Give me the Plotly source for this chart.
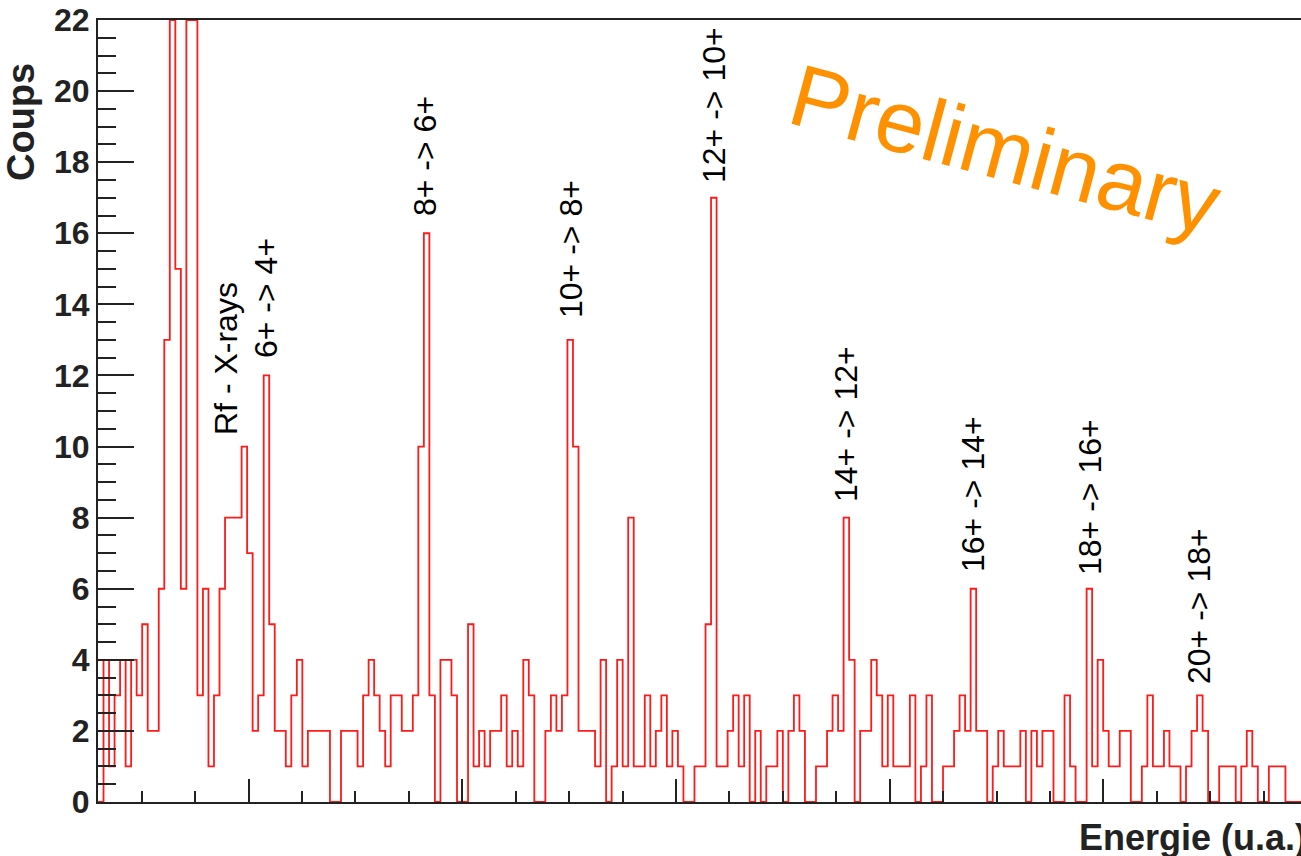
import numpy as np
import plotly.graph_objects as go

# ---------------- data (counts per bin) ----------------
counts = [
    0, 4, 1, 3, 4, 1, 4, 3, 5, 2,          # 0-9
    2, 6, 13, 22, 15, 6, 22, 22, 3, 6,     # 10-19
    1, 3, 6, 8, 8, 8, 10, 7, 2, 3,         # 20-29
    12, 5, 2, 2, 1, 3, 4, 1, 2, 2,         # 30-39
    2, 2, 0, 0, 2, 2, 2, 1, 3, 4,          # 40-49
    3, 2, 1, 3, 3, 2, 2, 3, 10, 16,        # 50-59
    3, 0, 4, 4, 3, 0, 0, 5, 1, 2,          # 60-69
    1, 2, 2, 3, 1, 2, 1, 4, 3, 0,          # 70-79
    0, 2, 3, 2, 3, 13, 10, 2, 2, 2,        # 80-89
    1, 4, 0, 1, 4, 1, 8, 1, 1, 3,          # 90-99
    1, 2, 3, 1, 2, 1, 0, 0, 1, 1,          # 100-109
    5, 17, 1, 1, 2, 3, 1, 3, 0, 2,         # 110-119
    0, 1, 1, 2, 0, 2, 3, 2, 0, 0,          # 120-129
    1, 1, 2, 3, 2, 8, 4, 0, 2, 2,          # 130-139
    4, 3, 1, 3, 1, 1, 1, 3, 0, 1,          # 140-149
    3, 0, 0, 1, 1, 2, 3, 2, 6, 2,          # 150-159
    2, 0, 1, 2, 1, 1, 1, 2, 0, 2,          # 160-169
    1, 2, 2, 0, 0, 3, 1, 0, 0, 6,          # 170-179
    1, 4, 2, 1, 1, 2, 2, 0, 0, 1,          # 180-189
    3, 1, 1, 2, 1, 1, 0, 1, 2, 3,          # 190-199
    2, 0, 0, 1, 1, 1, 0, 1, 2, 1,          # 200-209
    0, 0, 1, 1, 1, 0, 0, 0,                # 210-217
]

transition_labels = ["Rf - X-rays", "6+ -> 4+", "8+ -> 6+", "10+ -> 8+", "12+ -> 10+",
                     "14+ -> 12+", "16+ -> 14+", "18+ -> 16+", "20+ -> 18+"]
y_tick_values = [0, 2, 4, 6, 8, 10, 12, 14, 16, 18, 20, 22]
y_axis_title = "Coups"
x_axis_title = "Energie (u.a.)"
watermark = "Preliminary"

# ---------------- layout geometry ----------------
W, H = 1301, 856
ML, MR, MT, MB = 98, 0, 20, 54
BIN_PX = 5.523
X_MAX = (W - ML - MR) / BIN_PX
Y_MAX = 22


def px_to_paper(px, py):
    return (px - ML) / (W - ML - MR), (H - MB - py) / (H - MT - MB)


n = len(counts)
edges = np.arange(n + 1, dtype=float)
shown = np.minimum(np.array(counts, dtype=float), Y_MAX)
xs = np.concatenate([[edges[0]], edges[:-1], [edges[-1]]])
ys = np.concatenate([[0.0], shown, [0.0]])

fig = go.Figure()
fig.add_trace(go.Scatter(
    x=xs, y=ys, mode="lines", line=dict(color="#ff1a1a", width=1.8, shape="hv"),
    hoverinfo="skip", showlegend=False,
))

# label positions (pixel centres)
label_pos = [(226, 359), (266, 298), (425, 156), (571, 249), (714, 105),
             (846, 424), (973, 494), (1090, 497), (1199, 606)]

annotations = []
for txt, (px, py) in zip(transition_labels, label_pos):
    ax, ay = px_to_paper(px, py)
    annotations.append(dict(
        x=ax, y=ay, xref="paper", yref="paper", text=txt, showarrow=False,
        textangle=-90, xanchor="center", yanchor="middle",
        font=dict(family="Liberation Sans, Arial, sans-serif", size=32, color="black"),
    ))

# y axis title (top aligned like ROOT)
ax, ay = px_to_paper(21, 122)
annotations.append(dict(
    x=ax, y=ay, xref="paper", yref="paper", text=y_axis_title, showarrow=False,
    textangle=-90, xanchor="center", yanchor="middle",
    font=dict(family="Liberation Sans, Arial, sans-serif", size=38, color="#222", weight="bold"),
))
# x axis title (right aligned, clipped at the page edge as in the reference)
ax, ay = px_to_paper(1077, 838)
annotations.append(dict(
    x=ax, y=ay, xref="paper", yref="paper", text=x_axis_title, showarrow=False,
    xanchor="left", yanchor="middle",
    font=dict(family="Liberation Sans, Arial, sans-serif", size=36, color="#222", weight="bold"),
))
# watermark
ax, ay = px_to_paper(1005, 150)
annotations.append(dict(
    x=ax, y=ay, xref="paper", yref="paper", text=watermark, showarrow=False,
    textangle=15, xanchor="center", yanchor="middle",
    font=dict(family="Liberation Sans, Arial, sans-serif", size=88, color="#ff9000"),
))

fig.update_layout(
    width=W, height=H,
    margin=dict(l=ML, r=MR, t=MT, b=MB, pad=0),
    paper_bgcolor="white", plot_bgcolor="white",
    showlegend=False,
    annotations=annotations,
)

fig.update_xaxes(
    range=[0, X_MAX], showgrid=False, zeroline=False,
    showline=True, linecolor="#222", linewidth=2, mirror=True,
    ticks="inside", ticklen=23, tickwidth=2, tickcolor="#222",
    tick0=27.25, dtick=38.7, showticklabels=False,
    minor=dict(ticks="inside", ticklen=11, tickwidth=2, tickcolor="#222",
               tick0=27.25, dtick=9.675, showgrid=False),
)
fig.update_yaxes(
    range=[0, Y_MAX], showgrid=False, zeroline=False,
    showline=True, linecolor="#222", linewidth=2, mirror=False,
    ticks="inside", ticklen=36, tickwidth=2, tickcolor="#222",
    tickmode="array", tickvals=y_tick_values,
    ticktext=[str(v) for v in y_tick_values],
    tickfont=dict(family="Liberation Sans, Arial, sans-serif", size=32, color="#222", weight="bold"),
    minor=dict(ticks="inside", ticklen=18, tickwidth=2, tickcolor="#222",
               tick0=0, dtick=0.5, showgrid=False),
)

fig.write_html("out.html")
